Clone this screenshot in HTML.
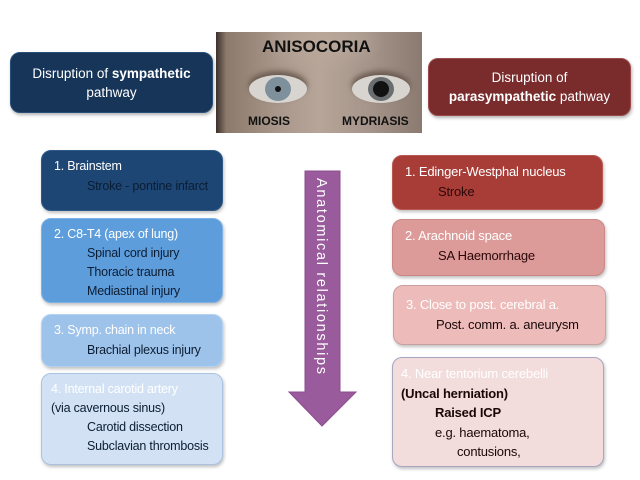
<!DOCTYPE html>
<html><head><meta charset="utf-8"><style>
*{margin:0;padding:0;box-sizing:border-box}
body{width:640px;height:480px;background:#fff;position:relative;overflow:hidden;font-family:"Liberation Sans",sans-serif;}
.b{position:absolute;border-radius:10px;font-size:12.5px;line-height:19.5px;padding:6px 0 0 12px;box-shadow:1px 2px 3px rgba(0,0,0,0.25);white-space:nowrap;letter-spacing:-0.2px}
.i{padding-left:33px}
.w{color:#fff}
.hd{position:absolute;border-radius:10px;color:#fff;font-size:13.5px;line-height:19px;text-align:center;box-shadow:1px 2px 3px rgba(0,0,0,0.3);display:flex;align-items:center;justify-content:center}
.img{position:absolute;left:216px;top:32px;width:206px;height:101px;overflow:hidden;
background:radial-gradient(ellipse 60px 30px at 52% 10%,#b9a89a,transparent),linear-gradient(90deg,#3a302a 0%,#8c7a6c 5%,#a8978a 30%,#b6a598 50%,#a5948a 75%,#8a7a70 100%);}
.eye{position:absolute;top:43px;width:58px;height:28px;border-radius:50%;background:#d8d4d0;box-shadow:0 -4px 6px #6a5a50}
.iris{position:absolute;left:16px;top:2px;width:26px;height:24px;border-radius:50%;background:#6f8290}
.pup{position:absolute;border-radius:50%;background:#111}
.lbl{position:absolute;font-weight:bold;color:#111}
</style></head><body>
<div class="hd" style="left:10px;top:52px;width:203px;height:61px;background:#163558;border:1px solid #2a4f78">
<div>Disruption of <b>sympathetic</b><br>pathway</div></div>
<div class="hd" style="left:428px;top:58px;width:203px;height:58px;background:#7a2b2b;border:1px solid #9a4a4a">
<div>Disruption of<br><b>parasympathetic</b> pathway</div></div>

<div class="img">
<div class="eye" style="left:33px"><div class="iris" style="background:#7d909c"><div class="pup" style="left:10px;top:9px;width:6px;height:6px"></div></div></div>
<div class="eye" style="left:136px"><div class="iris" style="background:#6a6e70"><div class="pup" style="left:5px;top:4px;width:16px;height:16px"></div></div></div>
<div class="lbl" style="left:46px;top:5px;font-size:17px">ANISOCORIA</div>
<div class="lbl" style="left:32px;top:82px;font-size:12px">MIOSIS</div>
<div class="lbl" style="left:126px;top:82px;font-size:12px">MYDRIASIS</div>
</div>

<div class="b w" style="left:41px;top:150px;width:182px;height:61px;background:#1d4674;border:1px solid #2e5a8a">1. Brainstem<div class="i" style="color:#0b1d33">Stroke - pontine infarct</div></div>
<div class="b" style="left:41px;top:218px;width:182px;height:85px;background:#5e9ddb;border:1px solid #7fb2e4;color:#0b1d33;line-height:19px"><span class="w">2. C8-T4 (apex of lung)</span><div class="i">Spinal cord injury<br>Thoracic trauma<br>Mediastinal injury</div></div>
<div class="b" style="left:41px;top:314px;width:182px;height:53px;background:#9ec3ea;border:1px solid #b5d2f0;color:#0b1d33"><span class="w">3. Symp. chain in neck</span><div class="i">Brachial plexus injury</div></div>
<div class="b" style="left:41px;top:373px;width:182px;height:92px;background:#d2e2f4;border:1px solid #a9c3e0;color:#0b1d33;line-height:19px;padding-left:9px"><span class="w">4. Internal carotid artery</span><br>(via cavernous sinus)<div class="i" style="padding-left:36px">Carotid dissection<br>Subclavian thrombosis</div></div>

<svg style="position:absolute;left:0;top:0" width="640" height="480">
<polygon points="305,171 340,171 340,392 356,392 322,426 289,392 305,392" fill="#9a5b9d" stroke="#8a4d8d" stroke-width="1"/>
<text x="0" y="0" transform="translate(317,178) rotate(90)" fill="#fff" font-family="Liberation Sans" font-size="14.5" textLength="196">Anatomical relationships</text>
</svg>

<div class="b w" style="left:392px;top:155px;width:211px;height:55px;background:#a83d38;border:1px solid #b85852;font-size:13px">1. Edinger-Westphal nucleus<div class="i" style="color:#2a0808">Stroke</div></div>
<div class="b" style="left:392px;top:219px;width:213px;height:57px;background:#dc9b99;border:1px solid #c98886;color:#2a0808;font-size:13px"><span class="w">2. Arachnoid space</span><div class="i">SA Haemorrhage</div></div>
<div class="b" style="left:393px;top:285px;width:213px;height:60px;background:#edbcba;border:1px solid #c9a0a0;color:#1a0808;padding-top:9px;font-size:13px"><span class="w">3. Close to post. cerebral a.</span><div class="i" style="padding-left:30px">Post. comm. a. aneurysm</div></div>
<div class="b" style="left:392px;top:357px;width:212px;height:110px;background:#f3dcdc;border:1px solid #a9a6c0;color:#1a0808;padding-left:8px;font-size:13px"><span class="w">4. Near tentorium cerebelli</span><br><b>(Uncal herniation)</b><div style="padding-left:34px"><b>Raised ICP</b></div><div style="padding-left:34px">e.g. haematoma,</div><div style="padding-left:56px">contusions,</div></div>
</body></html>
